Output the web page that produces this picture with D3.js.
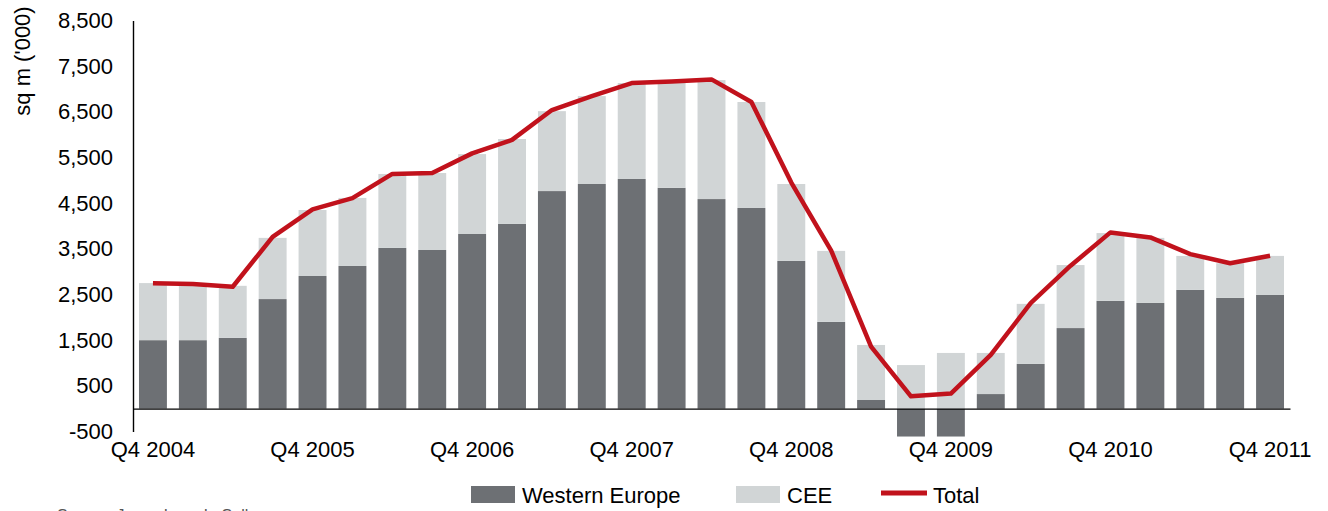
<!DOCTYPE html>
<html>
<head>
<meta charset="utf-8">
<script src="https://cdn.jsdelivr.net/npm/d3@7"></script>
<style>
    body { margin: 0; background: #fff; }
    text { font-family: "Liberation Sans", Arial, sans-serif; fill: #000; }
    .axis .domain { stroke: #000; stroke-width: 1.4px; }
    .axis text { font-size: 22px; }
</style>
</head>
<body>
<div id="chartContainer"></div>
<script>
// quarters on the x axis
var quarters = ["Q4 2004", "Q1 2005", "Q2 2005", "Q3 2005",
    "Q4 2005", "Q1 2006", "Q2 2006", "Q3 2006",
    "Q4 2006", "Q1 2007", "Q2 2007", "Q3 2007",
    "Q4 2007", "Q1 2008", "Q2 2008", "Q3 2008",
    "Q4 2008", "Q1 2009", "Q2 2009", "Q3 2009",
    "Q4 2009", "Q1 2010", "Q2 2010", "Q3 2010",
    "Q4 2010", "Q1 2011", "Q2 2011", "Q3 2011",
    "Q4 2011"];

// sq m ('000)
var westernEurope = [1500, 1500, 1550, 2400, 2905, 3125, 3520, 3475,
    3825, 4045, 4765, 4920, 5030, 4835, 4590, 4395,
    3235, 1900, 190, -610, -610, 320, 980, 1765,
    2360, 2315, 2600, 2425, 2490];
var cee = [1250, 1210, 1140, 1340, 1445, 1490, 1620, 1685,
    1750, 1860, 1750, 1925, 2100, 2315, 2605, 2320,
    1685, 1555, 1205, 955, 1220, 900, 1315, 1380,
    1485, 1425, 745, 760, 855];
var total = [2745, 2730, 2670, 3760, 4365, 4610, 5140, 5160,
    5590, 5885, 6540, 6845, 7130, 7165, 7210, 6715,
    4950, 3460, 1360, 270, 330, 1180, 2310, 3130,
    3860, 3750, 3385, 3185, 3350];

var yTicks = [-500, 500, 1500, 2500, 3500, 4500, 5500, 6500, 7500, 8500];
var labelEvery = 4;

var seriesNames = ["Western Europe", "CEE"];
var colors = { "Western Europe": "#6d7074", "CEE": "#d1d5d6", "Total": "#c1121c" };

var width = 1328, height = 511;

var svg = d3.select("#chartContainer")
    .append("svg")
    .attr("width", width)
    .attr("height", height);

// scales
var x = d3.scaleBand()
    .domain(quarters)
    .range([133, 1290])
    .paddingInner(0.3)
    .paddingOuter(0.15);

var y = d3.scaleLinear()
    .domain([-500, 8500])
    .range([431.5, 20.5]);

// build table for the stack
var table = quarters.map(function (q, i) {
    return { quarter: q, "Western Europe": westernEurope[i], "CEE": cee[i], "Total": total[i] };
});

var stacked = d3.stack()
    .keys(seriesNames)
    .offset(d3.stackOffsetDiverging)(table);

// bars
svg.append("g")
    .selectAll("g")
    .data(stacked)
    .enter()
    .append("g")
    .attr("fill", function (d) { return colors[d.key]; })
    .selectAll("rect")
    .data(function (d) { return d; })
    .enter()
    .append("rect")
    .attr("x", function (d) { return x(d.data.quarter); })
    .attr("width", x.bandwidth())
    .attr("y", function (d) { return y(Math.max(d[0], d[1])); })
    .attr("height", function (d) { return Math.abs(y(d[0]) - y(d[1])); });

// Y axis
svg.append("g")
    .attr("class", "axis yaxis")
    .attr("transform", "translate(133,0)")
    .call(d3.axisLeft(y)
        .tickValues(yTicks)
        .tickSize(0)
        .tickPadding(20)
        .tickFormat(function (d) { return d < 0 ? "-" + d3.format(",")(-d) : d3.format(",")(d); }));

// X axis at zero
svg.append("g")
    .attr("class", "axis xaxis")
    .attr("transform", "translate(0," + y(0) + ")")
    .call(d3.axisBottom(x)
        .tickSize(0)
        .tickPadding(33)
        .tickFormat(function (d, i) { return i % labelEvery === 0 ? d : ""; }));

// total line
svg.append("path")
    .datum(table)
    .attr("fill", "none")
    .attr("stroke", colors["Total"])
    .attr("stroke-width", 4.5)
    .attr("stroke-linejoin", "round")
    .attr("d", d3.line()
        .x(function (d) { return x(d.quarter) + x.bandwidth() / 2; })
        .y(function (d) { return y(d.Total); }));

// y-label
svg.append("text")
    .attr("text-anchor", "middle")
    .attr("transform", "translate(30,61) rotate(-90)")
    .style("font-size", "22px")
    .text("sq m ('000)");

// legend
var legend = svg.append("g").style("font-size", "22px");

legend.append("rect").attr("x", 471).attr("y", 486).attr("width", 44).attr("height", 17)
    .attr("fill", colors["Western Europe"]);
legend.append("text").attr("x", 522).attr("y", 502.5).text("Western Europe");

legend.append("rect").attr("x", 736).attr("y", 486).attr("width", 44).attr("height", 17)
    .attr("fill", colors["CEE"]);
legend.append("text").attr("x", 787).attr("y", 502.5).text("CEE");

legend.append("line").attr("x1", 881).attr("x2", 927).attr("y1", 493).attr("y2", 493)
    .attr("stroke", colors["Total"]).attr("stroke-width", 5);
legend.append("text").attr("x", 933).attr("y", 502.5).text("Total");

// source, cut off at the bottom edge
svg.append("text")
    .attr("x", 57)
    .attr("y", 521)
    .style("font-size", "16px")
    .style("fill", "#555")
    .text("Source: Jones Lang LaSalle");
</script>
</body>
</html>
